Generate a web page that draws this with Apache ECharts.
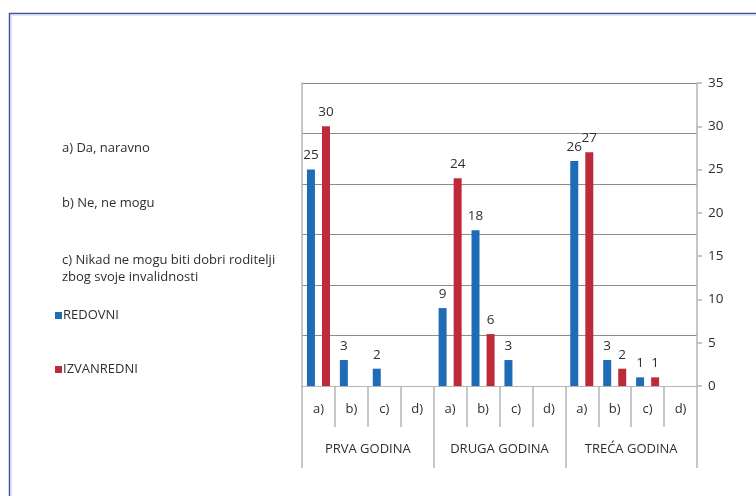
<!DOCTYPE html>
<html>
<head>
<meta charset="utf-8">
<script src="https://cdn.jsdelivr.net/npm/echarts@6/dist/echarts.min.js"></script>
<style>
  html, body { margin: 0; padding: 0; background: #ffffff; }
  #chart { width: 756px; height: 496px; }
</style>
</head>
<body>
<div id="chart"></div>
<script>
// Answer options per study year
const answers = ['a)', 'b)', 'c)', 'd)'];
const years = ['PRVA GODINA', 'DRUGA GODINA', 'TREĆA GODINA'];

// Counts per answer, year by year (a, b, c, d)
const redovni    = [25, 3, 2, 0,   9, 18, 3, 0,   26, 3, 1, 0];
const izvanredni = [30, 0, 0, 0,   24, 6, 0, 0,   27, 2, 1, 0];

// Right value axis ticks
const valueTicks = { min: 0, max: 35, step: 5 };
// Background grid divisions
const gridDivs = { min: 0, max: 6, step: 1 };

// Explanation of answer options
const answerNotes = [
  'a) Da, naravno',
  'b) Ne, ne mogu',
  'c) Nikad ne mogu biti dobri roditelji\nzbog svoje invalidnosti'
];

const categories = [];
years.forEach(function () { answers.forEach(function (a) { categories.push(a); }); });

const FONT = '"Open Sans", Lato, sans-serif';
const TEXT = '#2f2f2f';
const AXIS = '#b5b5b5';
const GRID = '#8c8c8c';

const chart = echarts.init(document.getElementById('chart'), null, { renderer: 'canvas' });

const labelOpt = {
  show: true,
  position: 'top',
  distance: 7,
  color: TEXT,
  fontFamily: FONT,
  fontSize: 13.5,
  formatter: function (p) { return p.value ? String(p.value) : ''; }
};

chart.setOption({
  animation: false,
  backgroundColor: '#ffffff',
  textStyle: { fontFamily: FONT },
  grid: { left: 302, right: 59, top: 83, bottom: 110, containLabel: false },
  legend: {
    orient: 'vertical',
    left: 50,
    top: 304,
    itemWidth: 7,
    itemHeight: 7,
    itemGap: 41,
    icon: 'rect',
    textStyle: { color: TEXT, fontSize: 13, fontFamily: FONT, padding: [0, 0, 0, -4] },
    data: ['REDOVNI', 'IZVANREDNI']
  },
  graphic: [
    {
      type: 'rect',
      shape: { x: 9.5, y: 13.5, width: 800, height: 600 },
      style: { fill: 'none', stroke: '#44549a', lineWidth: 1.5 },
      silent: true
    },
    {
      type: 'rect',
      shape: { x: 11, y: 15, width: 800, height: 600 },
      style: { fill: 'none', stroke: '#c4d0ee', lineWidth: 1 },
      silent: true
    },
    {
      type: 'text', left: 62, top: 142,
      style: { text: answerNotes[0], fill: TEXT, font: '13px ' + FONT }
    },
    {
      type: 'text', left: 62, top: 197,
      style: { text: answerNotes[1], fill: TEXT, font: '13px ' + FONT }
    },
    {
      type: 'text', left: 62, top: 252,
      style: { text: answerNotes[2], fill: TEXT, font: '13px ' + FONT, lineHeight: 17 }
    }
  ],
  xAxis: [
    {
      type: 'category',
      data: categories,
      position: 'bottom',
      axisLine: { show: true, lineStyle: { color: AXIS, width: 1 } },
      axisTick: { show: true, interval: 0, length: 41, lineStyle: { color: AXIS, width: 1.5 } },
      axisLabel: { interval: 0, margin: 17, color: TEXT, fontSize: 13, fontFamily: FONT },
      splitLine: { show: false }
    },
    {
      type: 'category',
      data: years,
      position: 'bottom',
      axisLine: { show: false },
      axisTick: { show: true, interval: 0, length: 82, lineStyle: { color: AXIS, width: 1.5 } },
      axisLabel: { interval: 0, margin: 57, color: TEXT, fontSize: 13, fontFamily: FONT },
      splitLine: { show: false }
    }
  ],
  yAxis: [
    {
      type: 'value',
      position: 'left',
      min: gridDivs.min,
      max: gridDivs.max,
      interval: gridDivs.step,
      axisLine: { show: true, lineStyle: { color: AXIS, width: 1.5 } },
      axisTick: { show: false },
      axisLabel: { show: false },
      splitLine: { show: true, lineStyle: { color: GRID, width: 1.2 } }
    },
    {
      type: 'value',
      position: 'right',
      min: valueTicks.min,
      max: valueTicks.max,
      interval: valueTicks.step,
      axisLine: { show: true, lineStyle: { color: AXIS, width: 1.5 } },
      axisTick: { show: true, length: 5, lineStyle: { color: AXIS, width: 1.5 } },
      axisLabel: { margin: 11, color: TEXT, fontSize: 13.5, fontFamily: FONT },
      splitLine: { show: false }
    }
  ],
  series: [
    {
      name: 'REDOVNI',
      type: 'bar',
      xAxisIndex: 0,
      yAxisIndex: 1,
      data: redovni,
      barWidth: 8,
      barGap: '88%',
      itemStyle: { color: '#1e6cb6' },
      label: labelOpt
    },
    {
      name: 'IZVANREDNI',
      type: 'bar',
      xAxisIndex: 0,
      yAxisIndex: 1,
      data: izvanredni,
      barWidth: 8,
      barGap: '88%',
      itemStyle: { color: '#bf2a3b' },
      label: labelOpt
    }
  ]
});
</script>
</body>
</html>
